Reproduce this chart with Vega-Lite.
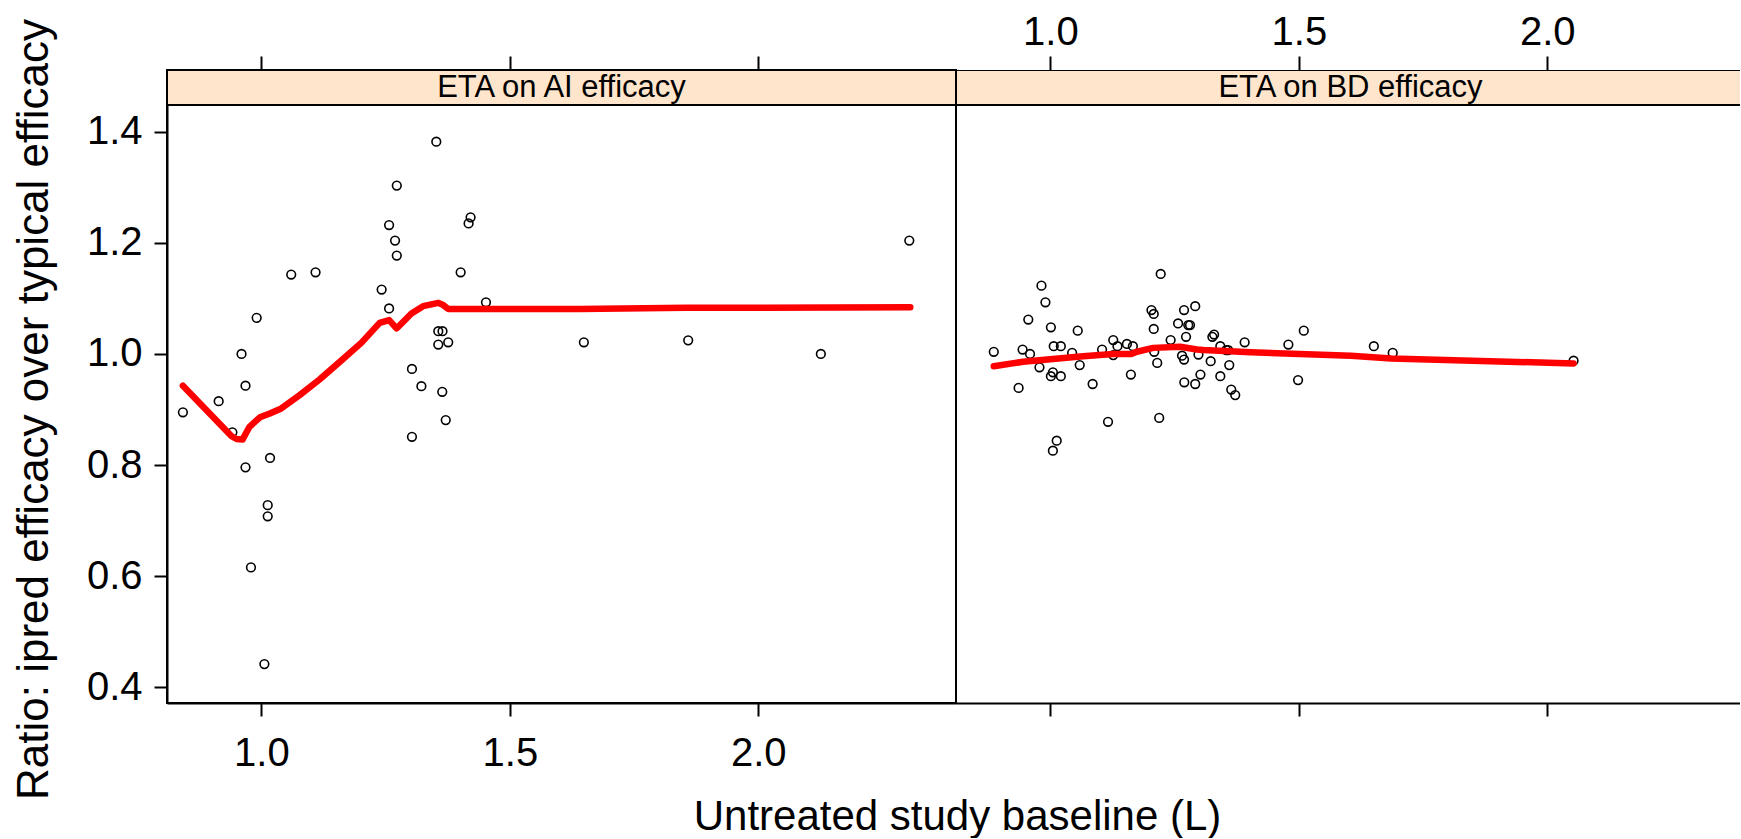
{
  "$schema": "https://vega.github.io/schema/vega-lite/v6.json",
  "background": "white",
  "padding": {"left": 11, "top": 12, "right": 0, "bottom": 0},
  "bounds": "flush",
  "spacing": 0,
  "config": {
    "font": "Liberation Sans",
    "view": {"stroke": null},
    "axis": {"labelFont": "Liberation Sans", "titleFont": "Liberation Sans", "labelColor": "black", "titleColor": "black", "tickColor": "black", "domainColor": "black", "grid": false, "titleFontWeight": "normal", "labelFlush": false, "labelOverlap": false}
  },
  "datasets": {
    "points": [
      {"panel": "AI", "baseline": 0.842, "ratio": 0.895},
      {"panel": "AI", "baseline": 0.914, "ratio": 0.915},
      {"panel": "AI", "baseline": 0.968, "ratio": 0.943},
      {"panel": "AI", "baseline": 0.960, "ratio": 1.000},
      {"panel": "AI", "baseline": 0.9905, "ratio": 1.065},
      {"panel": "AI", "baseline": 1.060, "ratio": 1.143},
      {"panel": "AI", "baseline": 1.109, "ratio": 1.147},
      {"panel": "AI", "baseline": 1.242, "ratio": 1.116},
      {"panel": "AI", "baseline": 1.257, "ratio": 1.082},
      {"panel": "AI", "baseline": 1.257, "ratio": 1.232},
      {"panel": "AI", "baseline": 1.269, "ratio": 1.204},
      {"panel": "AI", "baseline": 1.2725, "ratio": 1.177},
      {"panel": "AI", "baseline": 1.2725, "ratio": 1.303},
      {"panel": "AI", "baseline": 1.352, "ratio": 1.382},
      {"panel": "AI", "baseline": 1.421, "ratio": 1.246},
      {"panel": "AI", "baseline": 1.417, "ratio": 1.235},
      {"panel": "AI", "baseline": 1.401, "ratio": 1.147},
      {"panel": "AI", "baseline": 1.452, "ratio": 1.093},
      {"panel": "AI", "baseline": 1.356, "ratio": 1.041},
      {"panel": "AI", "baseline": 1.3645, "ratio": 1.041},
      {"panel": "AI", "baseline": 1.356, "ratio": 1.017},
      {"panel": "AI", "baseline": 1.376, "ratio": 1.021},
      {"panel": "AI", "baseline": 1.303, "ratio": 0.973},
      {"panel": "AI", "baseline": 1.322, "ratio": 0.942},
      {"panel": "AI", "baseline": 1.364, "ratio": 0.932},
      {"panel": "AI", "baseline": 1.371, "ratio": 0.881},
      {"panel": "AI", "baseline": 1.649, "ratio": 1.021},
      {"panel": "AI", "baseline": 0.9416, "ratio": 0.859},
      {"panel": "AI", "baseline": 1.303, "ratio": 0.851},
      {"panel": "AI", "baseline": 0.968, "ratio": 0.796},
      {"panel": "AI", "baseline": 1.0174, "ratio": 0.813},
      {"panel": "AI", "baseline": 1.0127, "ratio": 0.728},
      {"panel": "AI", "baseline": 1.0127, "ratio": 0.708},
      {"panel": "AI", "baseline": 0.979, "ratio": 0.616},
      {"panel": "AI", "baseline": 1.006, "ratio": 0.442},
      {"panel": "AI", "baseline": 1.859, "ratio": 1.0245},
      {"panel": "AI", "baseline": 2.126, "ratio": 1.000},
      {"panel": "AI", "baseline": 2.304, "ratio": 1.204},
      {"panel": "BD", "baseline": 0.886, "ratio": 1.004},
      {"panel": "BD", "baseline": 0.936, "ratio": 0.939},
      {"panel": "BD", "baseline": 0.944, "ratio": 1.008},
      {"panel": "BD", "baseline": 0.959, "ratio": 1.000},
      {"panel": "BD", "baseline": 0.9555, "ratio": 1.062},
      {"panel": "BD", "baseline": 0.982, "ratio": 1.123},
      {"panel": "BD", "baseline": 0.990, "ratio": 1.093},
      {"panel": "BD", "baseline": 1.001, "ratio": 1.048},
      {"panel": "BD", "baseline": 0.978, "ratio": 0.976},
      {"panel": "BD", "baseline": 1.0067, "ratio": 1.014},
      {"panel": "BD", "baseline": 1.021, "ratio": 1.014},
      {"panel": "BD", "baseline": 1.005, "ratio": 0.967},
      {"panel": "BD", "baseline": 1.001, "ratio": 0.960},
      {"panel": "BD", "baseline": 1.021, "ratio": 0.960},
      {"panel": "BD", "baseline": 1.0127, "ratio": 0.844},
      {"panel": "BD", "baseline": 1.005, "ratio": 0.826},
      {"panel": "BD", "baseline": 1.0437, "ratio": 1.002},
      {"panel": "BD", "baseline": 1.055, "ratio": 1.042},
      {"panel": "BD", "baseline": 1.059, "ratio": 0.980},
      {"panel": "BD", "baseline": 1.085, "ratio": 0.946},
      {"panel": "BD", "baseline": 1.104, "ratio": 1.008},
      {"panel": "BD", "baseline": 1.116, "ratio": 0.878},
      {"panel": "BD", "baseline": 1.1265, "ratio": 1.025},
      {"panel": "BD", "baseline": 1.1265, "ratio": 0.998},
      {"panel": "BD", "baseline": 1.135, "ratio": 1.014},
      {"panel": "BD", "baseline": 1.154, "ratio": 1.018},
      {"panel": "BD", "baseline": 1.166, "ratio": 1.014},
      {"panel": "BD", "baseline": 1.162, "ratio": 0.963},
      {"panel": "BD", "baseline": 1.2034, "ratio": 1.079},
      {"panel": "BD", "baseline": 1.208, "ratio": 1.072},
      {"panel": "BD", "baseline": 1.208, "ratio": 1.045},
      {"panel": "BD", "baseline": 1.209, "ratio": 1.004},
      {"panel": "BD", "baseline": 1.215, "ratio": 0.984},
      {"panel": "BD", "baseline": 1.222, "ratio": 1.144},
      {"panel": "BD", "baseline": 1.219, "ratio": 0.885},
      {"panel": "BD", "baseline": 1.242, "ratio": 1.025},
      {"panel": "BD", "baseline": 1.257, "ratio": 1.055},
      {"panel": "BD", "baseline": 1.269, "ratio": 1.079},
      {"panel": "BD", "baseline": 1.2775, "ratio": 1.052},
      {"panel": "BD", "baseline": 1.281, "ratio": 1.052},
      {"panel": "BD", "baseline": 1.273, "ratio": 1.031},
      {"panel": "BD", "baseline": 1.2915, "ratio": 1.086},
      {"panel": "BD", "baseline": 1.265, "ratio": 0.997},
      {"panel": "BD", "baseline": 1.269, "ratio": 0.990},
      {"panel": "BD", "baseline": 1.2695, "ratio": 0.949},
      {"panel": "BD", "baseline": 1.2915, "ratio": 0.946},
      {"panel": "BD", "baseline": 1.298, "ratio": 0.999},
      {"panel": "BD", "baseline": 1.302, "ratio": 0.963},
      {"panel": "BD", "baseline": 1.3226, "ratio": 0.987},
      {"panel": "BD", "baseline": 1.326, "ratio": 1.031},
      {"panel": "BD", "baseline": 1.3295, "ratio": 1.035},
      {"panel": "BD", "baseline": 1.342, "ratio": 1.014},
      {"panel": "BD", "baseline": 1.342, "ratio": 0.960},
      {"panel": "BD", "baseline": 1.354, "ratio": 1.007},
      {"panel": "BD", "baseline": 1.358, "ratio": 1.007},
      {"panel": "BD", "baseline": 1.360, "ratio": 0.980},
      {"panel": "BD", "baseline": 1.364, "ratio": 0.936},
      {"panel": "BD", "baseline": 1.372, "ratio": 0.926},
      {"panel": "BD", "baseline": 1.391, "ratio": 1.021},
      {"panel": "BD", "baseline": 1.479, "ratio": 1.017},
      {"panel": "BD", "baseline": 1.4985, "ratio": 0.953},
      {"panel": "BD", "baseline": 1.510, "ratio": 1.042},
      {"panel": "BD", "baseline": 1.651, "ratio": 1.014},
      {"panel": "BD", "baseline": 1.689, "ratio": 1.002},
      {"panel": "BD", "baseline": 2.053, "ratio": 0.988}
    ],
    "fit": [
      {"panel": "AI", "baseline": 0.842, "ratio": 0.943},
      {"panel": "AI", "baseline": 0.940, "ratio": 0.852},
      {"panel": "AI", "baseline": 0.950, "ratio": 0.847},
      {"panel": "AI", "baseline": 0.962, "ratio": 0.846},
      {"panel": "AI", "baseline": 0.976, "ratio": 0.869},
      {"panel": "AI", "baseline": 0.997, "ratio": 0.886},
      {"panel": "AI", "baseline": 1.017, "ratio": 0.893},
      {"panel": "AI", "baseline": 1.040, "ratio": 0.902},
      {"panel": "AI", "baseline": 1.077, "ratio": 0.926},
      {"panel": "AI", "baseline": 1.117, "ratio": 0.954},
      {"panel": "AI", "baseline": 1.158, "ratio": 0.986},
      {"panel": "AI", "baseline": 1.201, "ratio": 1.020},
      {"panel": "AI", "baseline": 1.238, "ratio": 1.056},
      {"panel": "AI", "baseline": 1.257, "ratio": 1.061},
      {"panel": "AI", "baseline": 1.272, "ratio": 1.046},
      {"panel": "AI", "baseline": 1.302, "ratio": 1.073},
      {"panel": "AI", "baseline": 1.3255, "ratio": 1.086},
      {"panel": "AI", "baseline": 1.356, "ratio": 1.092},
      {"panel": "AI", "baseline": 1.366, "ratio": 1.088},
      {"panel": "AI", "baseline": 1.376, "ratio": 1.081},
      {"panel": "AI", "baseline": 1.466, "ratio": 1.081},
      {"panel": "AI", "baseline": 1.641, "ratio": 1.081},
      {"panel": "AI", "baseline": 1.856, "ratio": 1.083},
      {"panel": "AI", "baseline": 2.306, "ratio": 1.084},
      {"panel": "BD", "baseline": 0.886, "ratio": 0.978},
      {"panel": "BD", "baseline": 0.945, "ratio": 0.986},
      {"panel": "BD", "baseline": 1.005, "ratio": 0.991},
      {"panel": "BD", "baseline": 1.066, "ratio": 0.996},
      {"panel": "BD", "baseline": 1.1265, "ratio": 1.000},
      {"panel": "BD", "baseline": 1.163, "ratio": 1.000},
      {"panel": "BD", "baseline": 1.174, "ratio": 1.004},
      {"panel": "BD", "baseline": 1.207, "ratio": 1.011},
      {"panel": "BD", "baseline": 1.261, "ratio": 1.013},
      {"panel": "BD", "baseline": 1.295, "ratio": 1.008},
      {"panel": "BD", "baseline": 1.308, "ratio": 1.007},
      {"panel": "BD", "baseline": 1.403, "ratio": 1.003},
      {"panel": "BD", "baseline": 1.605, "ratio": 0.997},
      {"panel": "BD", "baseline": 1.686, "ratio": 0.992},
      {"panel": "BD", "baseline": 2.053, "ratio": 0.983}
    ],
    "strips": [
      {"panel": "AI", "label": "ETA on AI efficacy"},
      {"panel": "BD", "label": "ETA on BD efficacy"}
    ]
  },
  "hconcat": [
    {
      "width": 789,
      "height": 633,
      "view": {"stroke": "black", "strokeWidth": 2},
      "resolve": {"scale": {"x": "shared", "y": "shared"}, "axis": {"x": "independent", "y": "independent"}},
      "layer": [
        {
          "data": {"name": "strips"},
          "transform": [{"filter": "datum.panel === 'AI'"}],
          "mark": {"type": "rect", "fill": "#FFE5CC", "stroke": "black", "strokeWidth": 2},
          "encoding": {
            "x": {"datum": 0.81, "type": "quantitative", "scale": {"domain": [0.81, 2.398], "nice": false, "zero": false},
                  "axis": {"orient": "top", "values": [1, 1.5, 2], "labels": false, "tickSize": 14, "tickWidth": 2, "domain": false, "title": null}},
            "x2": {"datum": 2.398},
            "y": {"datum": 1.448, "type": "quantitative", "scale": {"domain": [0.372, 1.511], "nice": false, "zero": false}, "axis": null},
            "y2": {"datum": 1.511}
          }
        },
        {
          "data": {"name": "strips"},
          "transform": [{"filter": "datum.panel === 'AI'"}],
          "mark": {"type": "text", "fontSize": 31, "font": "Liberation Sans", "color": "black", "baseline": "middle", "align": "center"},
          "encoding": {
            "x": {"datum": 1.604, "type": "quantitative", "axis": null},
            "y": {"datum": 1.4795, "type": "quantitative", "axis": null},
            "text": {"field": "label"}
          }
        },
        {
          "mark": {"type": "rule", "color": "#BEBEBE", "strokeDash": [6, 4], "strokeWidth": 1.5},
          "encoding": {
            "x": {"datum": 1.2, "type": "quantitative", "axis": null},
            "y": {"datum": 0.372, "type": "quantitative", "axis": null},
            "y2": {"datum": 1.448}
          }
        },
        {
          "data": {"name": "points"},
          "transform": [{"filter": "datum.panel === 'AI'"}],
          "mark": {"type": "point", "shape": "circle", "filled": false, "color": "black", "size": 75, "strokeWidth": 1.6, "opacity": 1},
          "encoding": {
            "x": {"field": "baseline", "type": "quantitative",
                  "axis": {"orient": "bottom", "values": [1, 1.5, 2], "format": ".1f", "labelFontSize": 40, "tickSize": 13, "tickWidth": 2, "domainWidth": 2, "labelPadding": 17,
                           "title": "Untreated study baseline (L)", "titleFontSize": 42, "titleX": 790, "titlePadding": 23}},
            "y": {"field": "ratio", "type": "quantitative",
                  "axis": {"orient": "left", "values": [0.4, 0.6, 0.8, 1.0, 1.2, 1.4], "format": ".1f", "labelFontSize": 40, "tickSize": 13, "tickWidth": 2, "domainWidth": 2, "labelPadding": 12,
                           "title": "Ratio: ipred efficacy over typical efficacy", "titleFontSize": 44, "titleY": 339, "titlePadding": 30}}
          }
        },
        {
          "data": {"name": "fit"},
          "transform": [{"filter": "datum.panel === 'AI'"}],
          "mark": {"type": "line", "color": "#FF0000", "strokeWidth": 6.5, "strokeCap": "round", "strokeJoin": "round"},
          "encoding": {
            "x": {"field": "baseline", "type": "quantitative", "axis": null},
            "y": {"field": "ratio", "type": "quantitative", "axis": null}
          }
        }
      ]
    },
    {
      "width": 784,
      "height": 633,
      "view": {"stroke": null},
      "resolve": {"scale": {"x": "shared", "y": "shared"}, "axis": {"x": "independent", "y": "independent"}},
      "layer": [
        {
          "data": {"name": "strips"},
          "transform": [{"filter": "datum.panel === 'BD'"}],
          "mark": {"type": "rect", "fill": "#FFE5CC", "stroke": "black", "strokeWidth": 2, "clip": true},
          "encoding": {
            "x": {"datum": 0.81, "type": "quantitative", "scale": {"domain": [0.81, 2.388], "nice": false, "zero": false},
                  "axis": {"orient": "top", "values": [1, 1.5, 2], "format": ".1f", "labelFontSize": 40, "labelPadding": 4, "tickSize": 14, "tickWidth": 2, "domain": false, "title": null}},
            "x2": {"datum": 2.398},
            "y": {"datum": 1.448, "type": "quantitative", "scale": {"domain": [0.372, 1.511], "nice": false, "zero": false}, "axis": null},
            "y2": {"datum": 1.511}
          }
        },
        {
          "data": {"name": "strips"},
          "transform": [{"filter": "datum.panel === 'BD'"}],
          "mark": {"type": "text", "fontSize": 31, "font": "Liberation Sans", "color": "black", "baseline": "middle", "align": "center"},
          "encoding": {
            "x": {"datum": 1.604, "type": "quantitative", "axis": null},
            "y": {"datum": 1.4795, "type": "quantitative", "axis": null},
            "text": {"field": "label"}
          }
        },
        {
          "mark": {"type": "rule", "color": "#BEBEBE", "strokeDash": [6, 4], "strokeWidth": 1.5},
          "encoding": {
            "x": {"datum": 1.2, "type": "quantitative", "axis": null},
            "y": {"datum": 0.372, "type": "quantitative", "axis": null},
            "y2": {"datum": 1.448}
          }
        },
        {
          "data": {"name": "points"},
          "transform": [{"filter": "datum.panel === 'BD'"}],
          "mark": {"type": "point", "shape": "circle", "filled": false, "color": "black", "size": 75, "strokeWidth": 1.6, "opacity": 1},
          "encoding": {
            "x": {"field": "baseline", "type": "quantitative",
                  "axis": {"orient": "bottom", "values": [1, 1.5, 2], "labels": false, "tickSize": 13, "tickWidth": 2, "domainWidth": 2, "title": null}},
            "y": {"field": "ratio", "type": "quantitative", "axis": null}
          }
        },
        {
          "data": {"name": "fit"},
          "transform": [{"filter": "datum.panel === 'BD'"}],
          "mark": {"type": "line", "color": "#FF0000", "strokeWidth": 6.5, "strokeCap": "round", "strokeJoin": "round"},
          "encoding": {
            "x": {"field": "baseline", "type": "quantitative", "axis": null},
            "y": {"field": "ratio", "type": "quantitative", "axis": null}
          }
        }
      ]
    }
  ]
}
